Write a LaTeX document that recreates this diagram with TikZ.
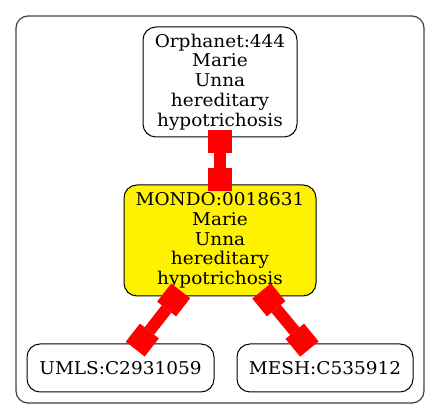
\documentclass[tikz,border=0pt]{standalone}
\usepackage{fontspec}
\setmainfont{DejaVu Serif}[FakeStretch=1.05]
\usetikzlibrary{arrows.meta}
\tikzset{
  gnode/.style={draw=black, line width=1pt, rounded corners=13pt, align=center,
    inner sep=0pt, outer sep=0pt, font=\fontsize{17.6}{19.75}\selectfont},
  gedge/.style={draw=red, line width=12pt,
    {Rectangle[length=23pt,width=24pt,line width=0pt]}-{Rectangle[length=23pt,width=24pt,line width=0pt]},
    shorten <=-6.5pt, shorten >=-6.5pt},
}
\begin{document}
\begin{tikzpicture}[x=1pt,y=-1pt]
\useasboundingbox (0,0) rectangle (440,419);
\draw[draw=black!75, line width=1.2pt, rounded corners=12pt] (16,16) rectangle (424,403);
\node[gnode, minimum width=154pt, minimum height=110pt] (orph) at (220,82)
  {Orphanet:444\\Marie\\Unna\\hereditary\\hypotrichosis};
\node[gnode, fill=yellow, minimum width=192pt, minimum height=111pt] (mondo) at (220,240.5)
  {MONDO:0018631\\Marie\\Unna\\hereditary\\hypotrichosis};
\node[gnode, minimum width=187pt, minimum height=48pt] (umls) at (120.5,368) {UMLS:C2931059};
\node[gnode, minimum width=176pt, minimum height=48pt] (mesh) at (325,368) {MESH:C535912};
\draw[gedge] (orph) -- (mondo);
\draw[gedge] (mondo) -- (umls);
\draw[gedge] (mondo) -- (mesh);
\end{tikzpicture}
\end{document}
